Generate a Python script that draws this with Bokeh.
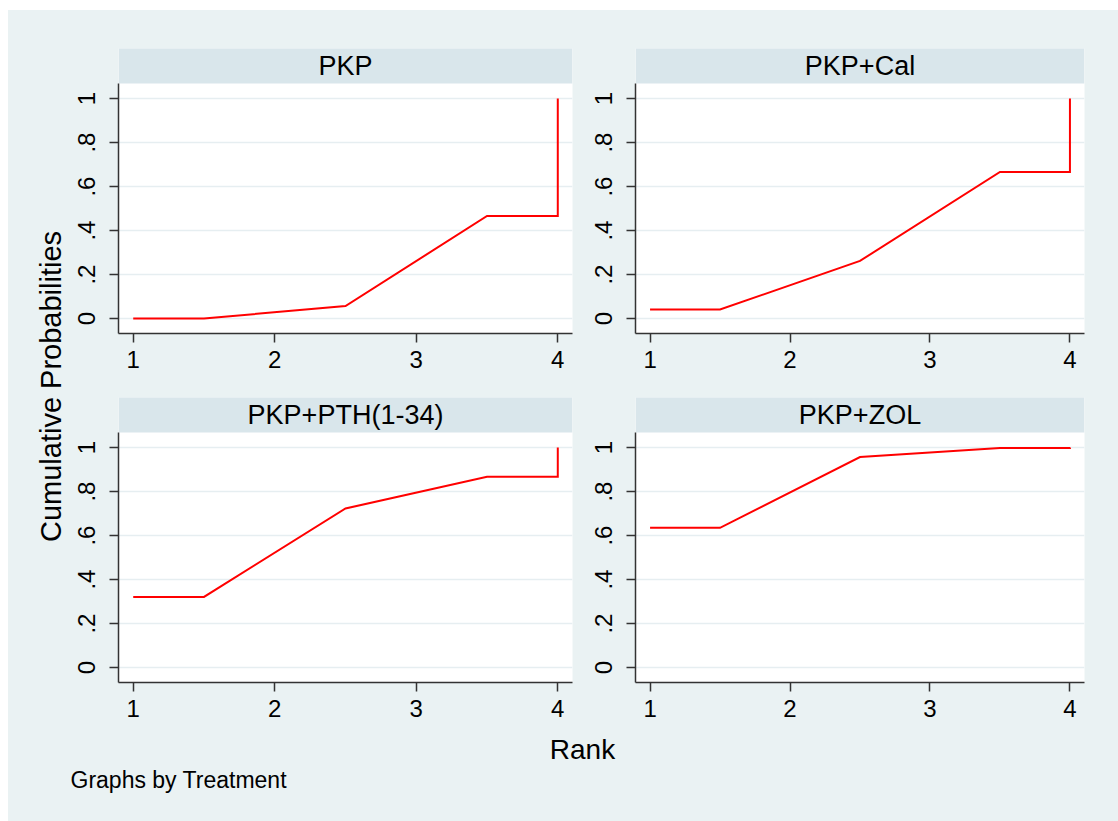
import math
from bokeh.plotting import figure
from bokeh.models import Range1d, FixedTicker, Label, Spacer
from bokeh.layouts import row, column
from bokeh.embed import file_html
from bokeh.resources import INLINE

# ---- data ----
ranks = [1, 1.5, 2.5, 3.5, 4, 4]
treatments = ["PKP", "PKP+Cal", "PKP+PTH(1-34)", "PKP+ZOL"]
pkp = [0.0, 0.0, 0.057, 0.466, 0.466, 1.0]
pkp_cal = [0.041, 0.041, 0.262, 0.666, 0.666, 1.0]
pkp_pth = [0.321, 0.321, 0.723, 0.867, 0.867, 1.0]
pkp_zol = [0.635, 0.635, 0.957, 0.998, 0.998, 1.0]
x_ticks = [1, 2, 3, 4]
y_ticks = [0, 0.2, 0.4, 0.6, 0.8, 1]
y_tick_labels = ["0", ".2", ".4", ".6", ".8", "1"]

BG = "#EAF2F3"
STRIP = "#D9E6EB"
AXC = "#333333"
FONT = "Liberation Sans"

X0, X1 = 0.896, 4.104
Y0, YW, Y1 = -0.068, 1.0682, 1.2275


def panel(name, vals, width, height, left, right, top, bottom):
    p = figure(width=width, height=height, x_range=Range1d(X0, X1),
               y_range=Range1d(Y0, Y1), output_backend="svg",
               toolbar_location=None, title=None,
               min_border_left=left, min_border_right=right,
               min_border_top=top, min_border_bottom=bottom)
    p.border_fill_color = BG
    p.background_fill_color = "white"
    p.outline_line_color = None
    p.quad(left=X0, right=X1, bottom=YW, top=Y1 + 0.05,
           fill_color=STRIP, line_color=None)
    p.line(ranks, vals, line_color="#FF0000", line_width=2, line_join="miter")
    p.add_layout(Label(x=(X0 + X1) / 2, y=(YW + Y1) / 2, text=name,
                       text_align="center", text_baseline="middle",
                       text_font=FONT, text_font_size="27px",
                       text_color="black"))
    p.xgrid.visible = False
    p.ygrid.ticker = FixedTicker(ticks=y_ticks)
    p.ygrid.grid_line_color = "#E6EEF1"
    p.ygrid.grid_line_width = 1.5
    p.xaxis.ticker = FixedTicker(ticks=x_ticks)
    p.yaxis.ticker = FixedTicker(ticks=y_ticks)
    p.yaxis.major_label_overrides = {t: l for t, l in zip(y_ticks, y_tick_labels)}
    p.yaxis.bounds = (Y0, YW)
    p.yaxis.major_label_orientation = "parallel"
    for ax in (p.xaxis, p.yaxis):
        ax.axis_line_color = AXC
        ax.axis_line_width = 1.5
        ax.major_tick_line_color = AXC
        ax.major_tick_line_width = 1.5
        ax.major_tick_in = 0
        ax.major_tick_out = 9
        ax.minor_tick_line_color = None
        ax.major_label_text_font = FONT
        ax.major_label_text_font_size = "24px"
        ax.major_label_text_color = "black"
    p.xaxis.major_label_standoff = 8
    p.yaxis.major_label_standoff = 14
    return p


p1 = panel(treatments[0], pkp, 517, 368, 52, 11, 38, 45)
p2 = panel(treatments[1], pkp_cal, 535, 368, 52, 34, 38, 45)
p3 = panel(treatments[2], pkp_pth, 517, 347, 52, 11, 19, 43)
p4 = panel(treatments[3], pkp_zol, 535, 347, 52, 34, 19, 43)


def blank(width, height):
    f = figure(width=width, height=height, x_range=Range1d(0, width),
               y_range=Range1d(0, height), output_backend="svg",
               toolbar_location=None, title=None, min_border=0,
               x_axis_location=None, y_axis_location=None)
    f.border_fill_color = BG
    f.background_fill_color = BG
    f.outline_line_color = None
    f.grid.visible = False
    return f


ylab = blank(58, 715)
ylab.add_layout(Label(x=42, y=339, text="Cumulative Probabilities",
                      angle=math.pi / 2, text_align="center",
                      text_baseline="middle", text_font=FONT,
                      text_font_size="29px", text_color="black"))

bot = blank(1110, 96)
bot.add_layout(Label(x=574, y=72, text="Rank", text_align="center",
                     text_baseline="middle", text_font=FONT,
                     text_font_size="28px", text_color="black"))
bot.add_layout(Label(x=62, y=42, text="Graphs by Treatment", text_align="left",
                     text_baseline="middle", text_font=FONT,
                     text_font_size="23px", text_color="black"))

inner = column(row(ylab, column(row(p1, p2, styles={"background-color": BG}),
                                row(p3, p4, styles={"background-color": BG}),
                                styles={"background-color": BG}),
                   styles={"background-color": BG}),
               bot, styles={"background-color": BG})

layout = column(Spacer(width=1118, height=10),
                row(Spacer(width=8, height=811), inner))

open("out.html", "w").write(file_html(layout, INLINE))
